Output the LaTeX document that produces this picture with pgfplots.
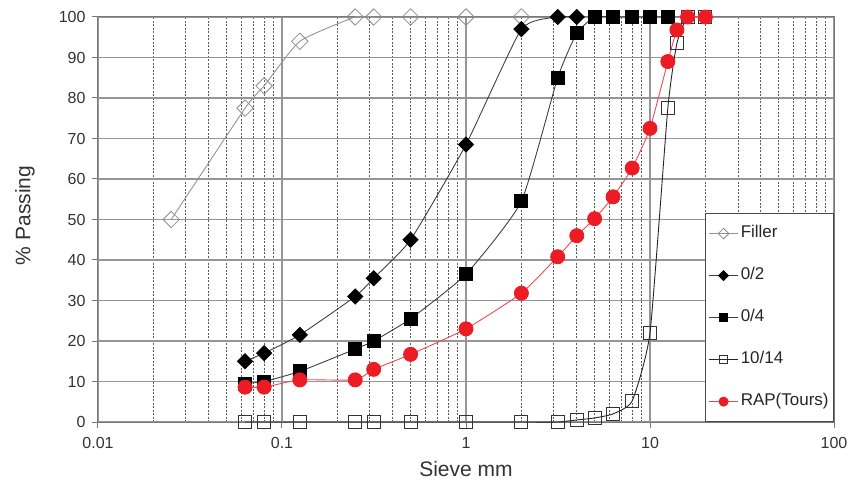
\documentclass[border=0pt]{standalone}
\usepackage{pgfplots}
\pgfplotsset{compat=1.18}
\usepackage{fontspec}
\setmainfont{Liberation Sans}
\definecolor{myred}{RGB}{236,28,36}
\definecolor{gridgray}{RGB}{150,150,150}
\definecolor{mingray}{RGB}{90,90,90}
\begin{document}
\begin{tikzpicture}
\useasboundingbox (-98bp,-59bp) rectangle (753bp,422bp);
\begin{axis}[
  scale only axis,
  width=736bp, height=405bp,
  xmode=log,
  xmin=0.01, xmax=100,
  ymin=0, ymax=100,
  ytick={0,10,...,100},
  xtick={0.01,0.1,1,10,100},
  log ticks with fixed point,
  /pgf/number format/assume math mode=true,
  minor y tick num=0,
  xmajorgrids, ymajorgrids, xminorgrids,
  major grid style={gridgray, line width=1.3bp},
  minor grid style={mingray, line width=0.6bp, dash pattern=on 2bp off 1.5bp},
  axis line style={gridgray!80!black, line width=1bp},
  tick align=outside,
  major tick length=6bp,
  minor tick length=0pt,
  xtick pos=bottom, ytick pos=left,
  tick style={gridgray!80!black, line width=1bp},
  tick label style={font=\fontsize{16bp}{19bp}\selectfont, text=black!80},
  xticklabel style={yshift=-6bp},
  yticklabel style={xshift=-3bp},
  xlabel={Sieve mm},
  ylabel={\% Passing},
  every axis x label/.style={at={(axis description cs:0.5,0)}, yshift=-47bp, anchor=center,
    font=\fontsize{21bp}{25bp}\selectfont, text=black!80},
  every axis y label/.style={at={(axis description cs:0,0.51)}, xshift=-73bp, rotate=90, anchor=center,
    font=\fontsize{21bp}{25bp}\selectfont, text=black!80},
  legend style={at={(1,0)}, anchor=south east, draw=black!70, line width=0.8bp,
    font=\fontsize{17bp}{20bp}\selectfont, text=black!85,
    nodes={text height=12bp, text depth=4bp, inner sep=2bp},
    row sep=22bp, inner xsep=3bp, inner ysep=10bp},
  legend cell align=left,
  legend image code/.code={\draw[mark repeat=2,mark phase=2,#1] plot coordinates {(0cm,0cm)(0.52cm,0cm)(1.04cm,0cm)};},
  legend image post style={every mark/.append style={scale=0.65}},
]
\addplot[color=gray!85, line width=0.9bp, smooth, tension=0.3, mark=square, mark size=5.8bp,
  mark options={rotate=45, fill=white, draw=gray!90, solid, line width=0.8bp}]
  coordinates {(0.025,50)(0.063,77.5)(0.08,83)(0.125,94)(0.25,100)(0.315,100)(0.5,100)(1,100)(2,100)};
\addlegendentry{Filler}
\addplot[color=black!75, line width=0.9bp, smooth, tension=0.3, mark=square*, mark size=5.3bp,
  mark options={rotate=45, fill=black, draw=black, solid}]
  coordinates {(0.063,15)(0.08,17)(0.125,21.5)(0.25,31)(0.315,35.5)(0.5,45)(1,68.5)(2,97)(3.15,100)(4,100)};
\addlegendentry{0/2}
\addplot[color=black!75, line width=0.9bp, smooth, tension=0.3, mark=square*, mark size=6.5bp,
  mark options={fill=black, draw=black, solid}]
  coordinates {(0.063,9.5)(0.08,10)(0.125,12.5)(0.25,18)(0.315,20)(0.5,25.5)(1,36.5)(2,54.5)(3.15,85)(4,96)(5,100)(6.3,100)(8,100)(10,100)(12.5,100)};
\addlegendentry{0/4}
\addplot[color=black!85, line width=0.9bp, smooth, tension=0.3, mark=square, mark size=6.5bp,
  mark options={fill=white, draw=black!80, solid, line width=0.9bp}]
  coordinates {(0.063,0)(0.08,0)(0.125,0)(0.25,0)(0.315,0)(0.5,0)(1,0)(2,0)(3.15,0)(4,0.5)(5,1)(6.3,2)(8,5.2)(10,22)(12.5,77.5)(14,93.5)(16,100)(20,100)};
\addlegendentry{10/14}
\addplot[color=myred!80, line width=0.9bp, smooth, tension=0.3, mark=*, mark size=7bp,
  mark options={fill=myred, draw=myred, solid}]
  coordinates {(0.063,8.6)(0.08,8.6)(0.125,10.4)(0.25,10.4)(0.315,13)(0.5,16.7)(1,23)(2,31.8)(3.15,40.8)(4,46)(5,50.2)(6.3,55.6)(8,62.7)(10,72.5)(12.5,89)(14,96.8)(16,100)(20,100)};
\addlegendentry{RAP(Tours)}
\end{axis}
\end{tikzpicture}
\end{document}
